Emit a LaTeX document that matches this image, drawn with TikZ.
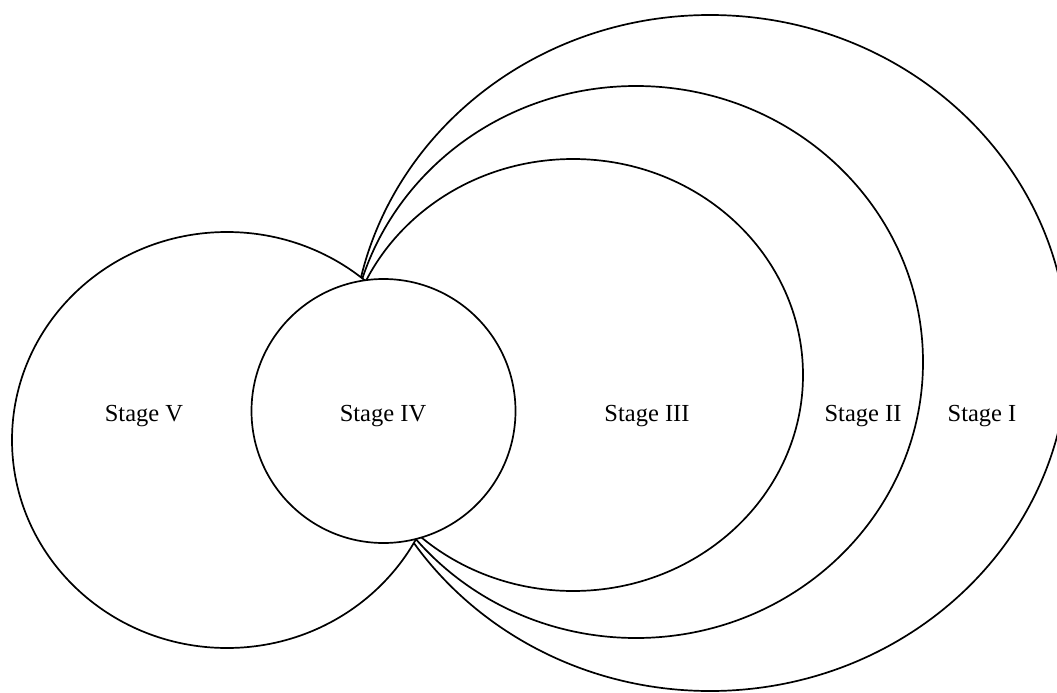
\documentclass[tikz,border=0pt]{standalone}
\usepackage{fontspec}
\setmainfont{Liberation Serif}

\begin{document}
\begin{tikzpicture}[x = 1pt, y = -1pt,
  stageline/.style = {black, line width = 1.7pt},
  stagename/.style = {black, anchor = base, font = \fontsize{24.5}{29}\selectfont}]
\useasboundingbox (0, 0) rectangle (1057, 693);
\clip (0, 0) rectangle (1057, 693);
\draw[stageline] (710, 353) ellipse [x radius = 358pt, y radius = 338pt];
\draw[stageline] (636, 362) ellipse [x radius = 287pt, y radius = 276pt];
\draw[stageline] (573, 375) ellipse [x radius = 230pt, y radius = 216pt];
\filldraw[stageline, fill = white] (227, 440) ellipse [x radius = 215pt, y radius = 208pt];
\filldraw[stageline, fill = white] (383.5, 411) circle [radius = 132pt];
\node[stagename] (stageV) at (144, 421){Stage V};
\node[stagename] (stageIV) at (383, 421){Stage IV};
\node[stagename] (stageIII) at (647, 421){Stage III};
\node[stagename] (stageII) at (863, 421){Stage II};
\node[stagename] (stageI) at (982, 421){Stage I};
\end{tikzpicture}
\end{document}
